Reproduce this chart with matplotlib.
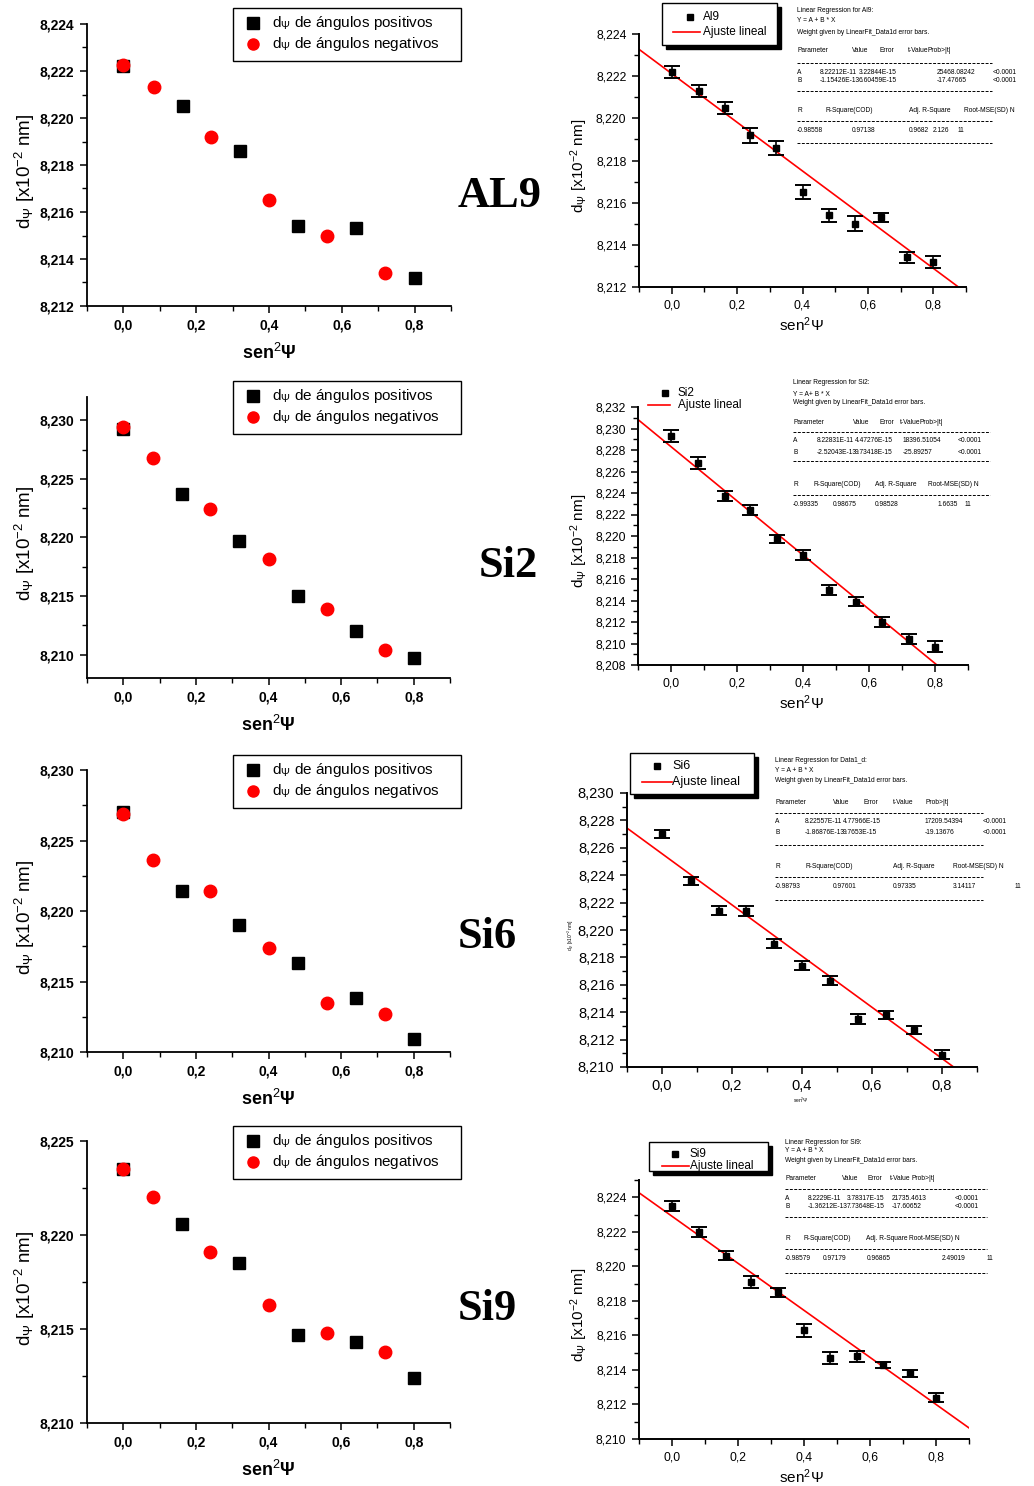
import matplotlib
matplotlib.use('Agg')
import matplotlib.pyplot as plt
from matplotlib.ticker import MultipleLocator, FuncFormatter
from matplotlib.lines import Line2D
from matplotlib.patches import Rectangle
from matplotlib import font_manager
import numpy as np

W, H = 1034, 1486

plt.rcParams['font.family'] = ['Liberation Sans', 'DejaVu Sans']
plt.rcParams['mathtext.fontset'] = 'custom'
plt.rcParams['mathtext.rm'] = 'Liberation Sans'
plt.rcParams['mathtext.it'] = 'Liberation Sans:italic'
plt.rcParams['mathtext.bf'] = 'Liberation Sans:bold'

# narrow font for the regression reports, if it is there
names = {f.name for f in font_manager.fontManager.ttflist}
if 'Liberation Sans Narrow' in names:
    REP_FONT, REP_SIZE = ['Liberation Sans Narrow'], 5.6
else:
    REP_FONT, REP_SIZE = ['Liberation Sans'], 4.8

# sen^2(psi) for positive / negative tilt angles
x_pos = [0.0, 0.163, 0.32, 0.48, 0.64, 0.80]
x_neg = [0.0, 0.083, 0.24, 0.40, 0.56, 0.72]

samples = ['AL9', 'Si2', 'Si6', 'Si9']
legend_names = ['Al9', 'Si2', 'Si6', 'Si9']

# d_psi [x10^-2 nm]
d_pos = {
    'AL9': [8.2222, 8.2205, 8.2186, 8.2154, 8.2153, 8.2132],
    'Si2': [8.2293, 8.2237, 8.2197, 8.2150, 8.2120, 8.2097],
    'Si6': [8.2270, 8.2214, 8.2190, 8.2163, 8.2138, 8.2109],
    'Si9': [8.2235, 8.2206, 8.2185, 8.2147, 8.2143, 8.2124],
}
d_neg = {
    'AL9': [8.22225, 8.2213, 8.2192, 8.2165, 8.2150, 8.2134],
    'Si2': [8.2294, 8.2268, 8.2224, 8.2182, 8.2139, 8.2104],
    'Si6': [8.2269, 8.2236, 8.2214, 8.2174, 8.2135, 8.2127],
    'Si9': [8.2235, 8.2220, 8.2191, 8.2163, 8.2148, 8.2138],
}
# error bars of the 11 merged points (sorted by sen^2 psi)
d_err = {
    'AL9': [0.00028, 0.00028, 0.00028, 0.00036, 0.00032, 0.00032, 0.00032, 0.00036, 0.00022, 0.00028, 0.00028],
    'Si2': [0.00054, 0.00053, 0.00047, 0.00047, 0.00037, 0.00047, 0.00047, 0.00043, 0.00043, 0.00045, 0.00053],
    'Si6': [0.00030, 0.00028, 0.00032, 0.00038, 0.00034, 0.00034, 0.00035, 0.00034, 0.00027, 0.00029, 0.00033],
    'Si9': [0.00028, 0.00028, 0.00026, 0.00034, 0.00027, 0.00038, 0.00033, 0.00032, 0.00016, 0.00022, 0.00027],
}
# linear fit d = A + B * sen^2 psi
fit_A = {'AL9': 8.22212, 'Si2': 8.22831, 'Si6': 8.22557, 'Si9': 8.2229}
fit_B = {'AL9': -0.0115426, 'Si2': -0.0252043, 'Si6': -0.0186876, 'Si9': -0.0136212}

ylims = {'AL9': (8.212, 8.224), 'Si2': (8.208, 8.232), 'Si6': (8.210, 8.230), 'Si9': (8.210, 8.225)}
left_major = {'AL9': 0.002, 'Si2': 0.005, 'Si6': 0.005, 'Si9': 0.005}

# regression reports
reports = {
    'AL9': dict(x=797, head=[(10, 'Linear Regression for Al9:'), (21, 'Y = A + B * X'),
                             (32, 'Weight given by LinearFit_Data1d error bars.')],
                cells=[(51, [(797, 'Parameter'), (852, 'Value'), (880, 'Error'), (908, 't-Value'), (927, 'Prob>|t|')]),
                       (72, [(797, 'A'), (820, '8.22212E-11'), (859, '3.22844E-15'), (937, '25468.08242'), (993, '<0.0001')]),
                       (81, [(797, 'B'), (820, '-1.15426E-13'), (859, '6.60459E-15'), (937, '-17.47665'), (993, '<0.0001')]),
                       (111, [(797, 'R'), (826, 'R-Square(COD)'), (909, 'Adj. R-Square'), (964, 'Root-MSE(SD) N')]),
                       (130, [(797, '-0.98558'), (852, '0.97138'), (909, '0.9682'), (933, '2.126'), (958, '11')])],
                dashes=[63, 91, 121, 143], x1=992),
    'Si2': dict(x=793, head=[(382, 'Linear Regression for Si2:'), (394, 'Y = A+ B * X'),
                             (403, 'Weight given by LinearFit_Data1d error bars.')],
                cells=[(422, [(793, 'Parameter'), (853, 'Value'), (880, 'Error'), (900, 't-Value'), (920, 'Prob>|t|')]),
                       (441, [(793, 'A'), (817, '8.22831E-11'), (855, '4.47276E-15'), (903, '18396.51054'), (958, '<0.0001')]),
                       (452, [(793, 'B'), (817, '-2.52043E-13'), (855, '9.73418E-15'), (903, '-25.89257'), (958, '<0.0001')]),
                       (485, [(793, 'R'), (813, 'R-Square(COD)'), (875, 'Adj. R-Square'), (928, 'Root-MSE(SD) N')]),
                       (505, [(793, '-0.99335'), (833, '0.98675'), (875, '0.98528'), (938, '1.6635'), (965, '11')])],
                dashes=[432, 461, 495], x1=990),
    'Si6': dict(x=775, head=[(760, 'Linear Regression for Data1_d:'), (770, 'Y = A + B * X'),
                             (781, 'Weight given by LinearFit_Data1d error bars.')],
                cells=[(802, [(775, 'Parameter'), (833, 'Value'), (864, 'Error'), (893, 't-Value'), (925, 'Prob>|t|')]),
                       (822, [(775, 'A'), (805, '8.22557E-11'), (843, '4.77966E-15'), (925, '17209.54394'), (983, '<0.0001')]),
                       (833, [(775, 'B'), (805, '-1.86876E-13'), (843, '9.7653E-15'), (925, '-19.13676'), (983, '<0.0001')]),
                       (867, [(775, 'R'), (805, 'R-Square(COD)'), (893, 'Adj. R-Square'), (953, 'Root-MSE(SD) N')]),
                       (887, [(775, '-0.98793'), (833, '0.97601'), (893, '0.97335'), (953, '3.14117'), (1015, '11')])],
                dashes=[813, 845, 877, 900], x1=983),
    'Si9': dict(x=785, head=[(1142, 'Linear Regression for Si9:'), (1151, 'Y = A + B * X'),
                             (1160, 'Weight given by LinearFit_Data1d error bars.')],
                cells=[(1179, [(785, 'Parameter'), (842, 'Value'), (867, 'Error'), (890, 't-Value'), (911, 'Prob>|t|')]),
                       (1198, [(785, 'A'), (808, '8.2229E-11'), (847, '3.78317E-15'), (892, '21735.4613'), (955, '<0.0001')]),
                       (1207, [(785, 'B'), (808, '-1.36212E-13'), (847, '7.73648E-15'), (892, '-17.60652'), (955, '<0.0001')]),
                       (1238, [(785, 'R'), (803, 'R-Square(COD)'), (866, 'Adj. R-Square'), (909, 'Root-MSE(SD) N')]),
                       (1258, [(785, '-0.98579'), (823, '0.97179'), (867, '0.96865'), (942, '2.49019'), (987, '11')])],
                dashes=[1189, 1217, 1249, 1273], x1=987),
}

# layout in pixels: (left, top, right, bottom)
left_box = {'AL9': (87, 24, 451, 306), 'Si2': (87, 397, 450, 678),
            'Si6': (87, 770, 450, 1052), 'Si9': (87, 1141, 450, 1423)}
right_box = {'AL9': (639, 34, 966, 287), 'Si2': (638, 407, 968, 665),
             'Si6': (627, 793, 977, 1067), 'Si9': (639, 1180, 969, 1439)}
left_leg_top = {'AL9': 8, 'Si2': 381, 'Si6': 755, 'Si9': 1126}
name_pos = {'AL9': (458, 207), 'Si2': (479, 577), 'Si6': (458, 948), 'Si9': (458, 1320)}


def fx(x):
    return x / W


def fy(y):
    return 1 - y / H


def add_axes(box):
    l, t, r, b = box
    return fig.add_axes([fx(l), fy(b), (r - l) / W, (b - t) / H])


def fmt_y(v, p):
    return f"{v:.3f}".replace('.', ',')


def fmt_x(v, p):
    if abs(v) < 1e-9:
        v = 0.0
    return f"{v:.1f}".replace('.', ',')


def style_axes(ax, ymajor, yminor, tick_size, bold, spine_w):
    for s in ['top', 'right']:
        ax.spines[s].set_visible(False)
    for s in ['left', 'bottom']:
        ax.spines[s].set_linewidth(spine_w)
    ax.set_xlim(-0.1, 0.9)
    ax.xaxis.set_major_locator(MultipleLocator(0.2))
    ax.xaxis.set_minor_locator(MultipleLocator(0.1))
    ax.yaxis.set_major_locator(MultipleLocator(ymajor))
    ax.yaxis.set_minor_locator(MultipleLocator(yminor))
    ax.xaxis.set_major_formatter(FuncFormatter(fmt_x))
    ax.yaxis.set_major_formatter(FuncFormatter(fmt_y))
    ax.tick_params(which='major', direction='out', length=5, width=1.1,
                   labelsize=tick_size, pad=4)
    ax.tick_params(which='minor', direction='out', length=3.5, width=1.0)
    for lab in ax.get_xticklabels() + ax.get_yticklabels():
        lab.set_fontweight('bold' if bold else 'normal')


fig = plt.figure(figsize=(W / 100, H / 100), dpi=100)

for name, leg_name in zip(samples, legend_names):
    # ---- left: positive / negative angles
    ax = add_axes(left_box[name])
    ax.plot(x_pos, d_pos[name], 's', color='black', ms=9, zorder=3)
    ax.plot(x_neg, d_neg[name], 'o', color='#ff0000', ms=9, zorder=4)
    ax.set_ylim(*ylims[name])
    style_axes(ax, left_major[name], left_major[name] / 2, 10, True, 1.3)

    l, t, r, b = left_box[name]
    fig.text(fx(25), fy((t + b) / 2 + 6), r'd$_{\Psi}$ [x10$^{-2}$ nm]',
             rotation=90, ha='center', va='center', fontsize=13.5)
    fig.text(fx((l + r) / 2), fy(b + 47), r'sen$^{2}$Ψ', ha='center', va='center',
             fontsize=13, fontweight='bold')

    lt = left_leg_top[name]
    fig.add_artist(Rectangle((fx(233), fy(lt + 53)), 228 / W, 53 / H, transform=fig.transFigure,
                             facecolor='white', edgecolor='black', lw=1.0))
    fig.add_artist(Line2D([fx(253)], [fy(lt + 15)], marker='s', ms=8, color='black',
                          transform=fig.transFigure))
    fig.add_artist(Line2D([fx(253)], [fy(lt + 36)], marker='o', ms=8, color='#ff0000',
                          transform=fig.transFigure))
    fig.text(fx(272), fy(lt + 15), r'd$_{\Psi}$ de ángulos positivos', va='center', fontsize=11)
    fig.text(fx(272), fy(lt + 36), r'd$_{\Psi}$ de ángulos negativos', va='center', fontsize=11)

    nx, ny = name_pos[name]
    fig.text(fx(nx), fy(ny), name, fontsize=32, fontweight='bold',
             family=['Liberation Serif', 'DejaVu Serif'], va='baseline')

    # ---- right: all points with error bars and linear fit
    pts = sorted(list(zip(x_pos, d_pos[name])) + list(zip(x_neg[1:], d_neg[name][1:])))
    xs = [p[0] for p in pts]
    ys = [p[1] for p in pts]
    axr = add_axes(right_box[name])
    axr.errorbar(xs, ys, yerr=d_err[name], fmt='s', color='black', ms=4,
                 elinewidth=1.2, capsize=5.5, capthick=1.4, zorder=3)
    xf = np.linspace(-0.1, 0.9, 50)
    axr.plot(xf, fit_A[name] + fit_B[name] * xf, color='#ff0000', lw=1.2, zorder=2)
    axr.set_ylim(*ylims[name])
    tsize = 10.5 if name == 'Si6' else 8.8
    style_axes(axr, 0.002, 0.001, tsize, False, 1.4)

    l, t, r, b = right_box[name]
    if name == 'Si6':
        fig.text(fx(571), fy((t + b) / 2 + 5), r'd$_{\Psi}$ [x10$^{-2}$ nm]', rotation=90,
                 ha='center', va='center', fontsize=3.5)
        fig.text(fx(801), fy(b + 33), r'sen$^{2}$Ψ', ha='center', va='center', fontsize=3.5)
    else:
        fig.text(fx(579), fy((t + b) / 2 + 5), r'd$_{\Psi}$ [x10$^{-2}$ nm]', rotation=90,
                 ha='center', va='center', fontsize=11)
        fig.text(fx(801), fy(b + 38), r'sen$^{2}$Ψ', ha='center', va='center', fontsize=11)

    # regression report
    rep = reports[name]
    for yy, txt in rep['head']:
        fig.text(fx(rep['x']), fy(yy), txt, va='center', fontsize=REP_SIZE, family=REP_FONT)
    for yy, cells in rep['cells']:
        for xx, txt in cells:
            fig.text(fx(xx), fy(yy), txt, va='center', fontsize=REP_SIZE, family=REP_FONT)
    for yy in rep['dashes']:
        fig.add_artist(Line2D([fx(rep['x']), fx(rep['x1'])], [fy(yy), fy(yy)], color='black',
                              lw=0.7, ls=(0, (3, 1.5)), transform=fig.transFigure))

# right-hand legends
r_legends = {
    'AL9': dict(box=(662, 3, 777, 45), mark=(690, 17), line=(673, 700, 32), tx=703, fs=8.5),
    'Si2': dict(box=None, mark=(665, 393), line=(648, 670, 405), tx=678, fs=8.5),
    'Si6': dict(box=(630, 753, 754, 794), mark=(657, 766), line=(642, 672, 782), tx=672, fs=9),
    'Si9': dict(box=(649, 1142, 768, 1171), mark=(675, 1154), line=(662, 689, 1166), tx=690, fs=8.5),
}
for name, leg_name in zip(samples, legend_names):
    lg = r_legends[name]
    if lg['box'] is not None:
        x0, y0, x1, y1 = lg['box']
        fig.add_artist(Rectangle((fx(x0 + 4), fy(y1 + 4)), (x1 - x0) / W, (y1 - y0) / H,
                                 transform=fig.transFigure, facecolor='black', edgecolor='black'))
        fig.add_artist(Rectangle((fx(x0), fy(y1)), (x1 - x0) / W, (y1 - y0) / H,
                                 transform=fig.transFigure, facecolor='white', edgecolor='black', lw=1.0))
    mx, my = lg['mark']
    fig.add_artist(Line2D([fx(mx)], [fy(my)], marker='s', ms=4, color='black', transform=fig.transFigure))
    a, bb, yl = lg['line']
    fig.add_artist(Line2D([fx(a), fx(bb)], [fy(yl), fy(yl)], color='#ff0000', lw=1.2, transform=fig.transFigure))
    fig.text(fx(lg['tx']), fy(my), leg_name, va='center', fontsize=lg['fs'])
    fig.text(fx(lg['tx']), fy(yl), 'Ajuste lineal', va='center', fontsize=lg['fs'])

fig.savefig('out.png', dpi=100, facecolor='white')
